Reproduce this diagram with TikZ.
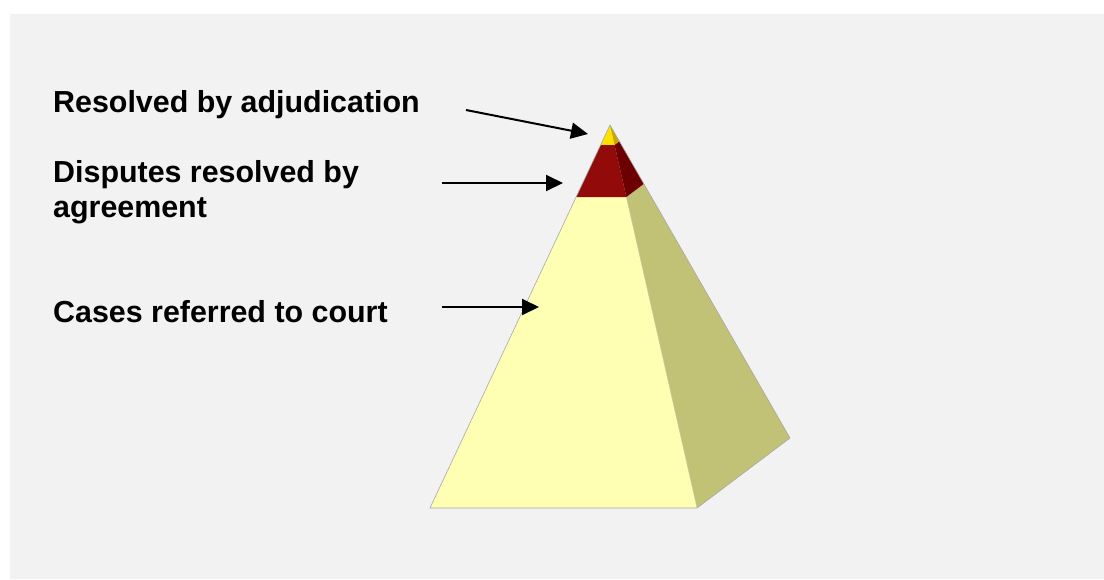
\documentclass[tikz,border=0pt]{standalone}
\usepackage{fontspec}
\setmainfont{Liberation Sans}
\usetikzlibrary{calc,arrows.meta}
\definecolor{bg}{HTML}{F2F2F2}
\definecolor{frontY}{HTML}{FFFFB4}
\definecolor{sideY}{HTML}{C2C276}
\definecolor{frontR}{HTML}{930A0A}
\definecolor{sideR}{HTML}{6C0000}
\definecolor{frontG}{HTML}{FFE000}
\definecolor{sideG}{HTML}{C8A800}
\definecolor{edgeC}{HTML}{A8A8A8}
\tikzset{
  lbl/.style={anchor=base west, inner sep=0pt, font=\fontsize{30.4}{35}\selectfont\bfseries, align=left},
  pointer/.style={line width=2pt, -{Triangle[length=17pt,width=16pt]}},
  face/.style={draw=edgeC, line width=0.6pt, line join=round}
}
\begin{document}
\begin{tikzpicture}[x=1pt,y=-1pt]
\useasboundingbox (0,0) rectangle (1104,579);
\fill[bg] (10,14) rectangle (1104,579);
% pyramid corners
\coordinate (A) at (610,125);
\coordinate (BL) at (430,508);
\coordinate (BR) at (697,508);
\coordinate (BB) at (790,438);
% band levels
\coordinate (L1) at ($(A)!0.052!(BL)$);
\coordinate (R1) at ($(A)!0.052!(BR)$);
\coordinate (S1) at ($(A)!0.052!(BB)$);
\coordinate (L2) at ($(A)!0.188!(BL)$);
\coordinate (R2) at ($(A)!0.188!(BR)$);
\coordinate (S2) at ($(A)!0.188!(BB)$);
% bottom band
\fill[frontY] (L2) -- (BL) -- (BR) -- (R2) -- cycle;
\fill[sideY] (R2) -- (BR) -- (BB) -- (S2) -- cycle;
% middle band
\fill[frontR] (L1) -- (L2) -- (R2) -- (R1) -- cycle;
\fill[sideR] (R1) -- (R2) -- (S2) -- (S1) -- cycle;
% tip
\fill[frontG] (A) -- (L1) -- (R1) -- cycle;
\fill[sideG] (A) -- (R1) -- (S1) -- cycle;
% outlines
\draw[face] (A) -- (BL) -- (BR) -- (BB) -- cycle;
\draw[draw=edgeC!60!frontY, line width=0.4pt] (R2) -- (BR);
% labels
\node[lbl] (t1) at (53,112) {Resolved by adjudication};
\node[lbl] (t2) at (53,217) {Disputes resolved by\\agreement};
\node[lbl] (t3) at (53,322) {Cases referred to court};
% arrow ends
\coordinate (a1s) at (466,110);
\coordinate (a1e) at (588,134);
\coordinate (a2s) at (442,183);
\coordinate (a2e) at (563,183);
\coordinate (a3s) at (442,307);
\coordinate (a3e) at (539,307);
\draw[pointer] (a1s) -- (a1e);
\draw[pointer] (a2s) -- (a2e);
\draw[pointer] (a3s) -- (a3e);
\end{tikzpicture}
\end{document}
